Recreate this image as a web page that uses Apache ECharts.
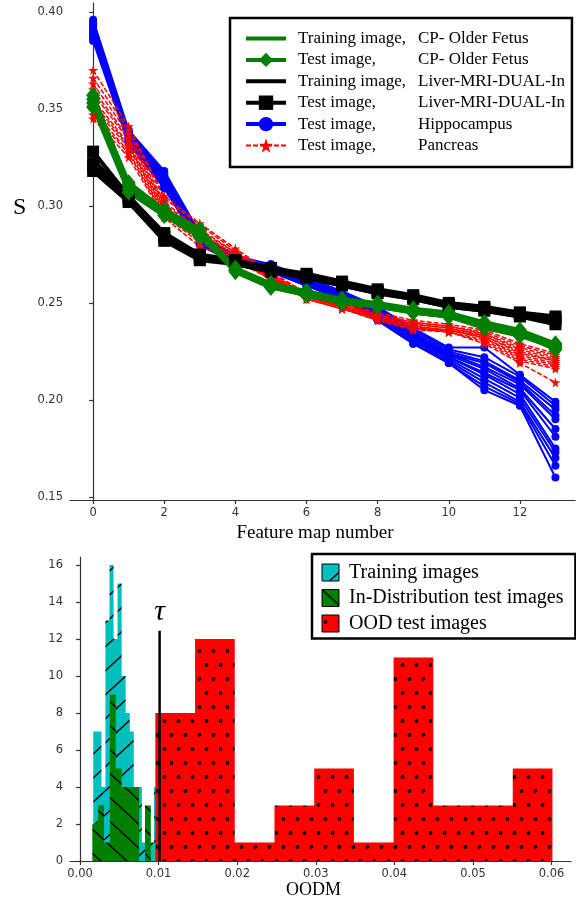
<!DOCTYPE html>
<html><head><meta charset="utf-8">
<script src="https://cdn.jsdelivr.net/npm/echarts@6/dist/echarts.min.js"></script>
<style>html,body{margin:0;padding:0;background:#fff}#c{width:576px;height:906px}</style>
</head><body><div id="c"></div>
<script>
// ---------------- data: top chart ----------------
const featureMaps = [0,1,2,3,4,5,6,7,8,9,10,11,12,13];
const yTicksTop = [0.15,0.20,0.25,0.30,0.35,0.40];
const xTicksTop = [0,2,4,6,8,10,12];

const cpTrain = [
  [0.356,0.310,0.297,0.286,0.267,0.259,0.255,0.251,0.249,0.246,0.244,0.239,0.235,0.228],
  [0.352,0.308,0.295,0.285,0.266,0.258,0.254,0.250,0.248,0.245,0.243,0.238,0.234,0.227]
];
const cpTest = [
  [0.357,0.311,0.297,0.287,0.267,0.259,0.255,0.251,0.249,0.246,0.244,0.239,0.235,0.228],
  [0.353,0.309,0.296,0.286,0.266,0.258,0.254,0.250,0.248,0.245,0.243,0.238,0.234,0.226],
  [0.351,0.307,0.295,0.284,0.267,0.259,0.254,0.251,0.249,0.245,0.243,0.237,0.233,0.227],
  [0.355,0.312,0.298,0.288,0.268,0.260,0.256,0.252,0.250,0.247,0.245,0.240,0.236,0.229]
];
const liverTrain = [
  [0.324,0.304,0.285,0.274,0.271,0.267,0.264,0.260,0.256,0.253,0.249,0.247,0.244,0.241],
  [0.320,0.302,0.283,0.273,0.270,0.266,0.263,0.259,0.255,0.252,0.248,0.246,0.243,0.240]
];
const liverTest = [
  [0.328,0.305,0.286,0.275,0.272,0.268,0.265,0.261,0.257,0.254,0.250,0.248,0.245,0.242],
  [0.322,0.303,0.284,0.273,0.271,0.267,0.264,0.260,0.256,0.253,0.249,0.247,0.244,0.241],
  [0.318,0.302,0.282,0.272,0.270,0.266,0.263,0.259,0.255,0.252,0.248,0.246,0.243,0.239],
  [0.320,0.304,0.285,0.274,0.272,0.267,0.264,0.260,0.256,0.253,0.249,0.247,0.245,0.243]
];
const hippoTest = [
  [0.396,0.339,0.318,0.286,0.274,0.270,0.263,0.256,0.248,0.237,0.227,0.227,0.213,0.199],
  [0.395,0.338,0.317,0.285,0.273,0.269,0.262,0.255,0.247,0.236,0.226,0.222,0.212,0.197],
  [0.394,0.337,0.316,0.285,0.273,0.269,0.262,0.255,0.246,0.235,0.225,0.220,0.210,0.195],
  [0.393,0.337,0.316,0.284,0.272,0.268,0.261,0.254,0.246,0.234,0.224,0.219,0.209,0.192],
  [0.392,0.336,0.315,0.284,0.272,0.268,0.261,0.254,0.245,0.233,0.224,0.217,0.208,0.190],
  [0.391,0.335,0.314,0.283,0.272,0.268,0.261,0.254,0.245,0.233,0.223,0.216,0.206,0.185],
  [0.390,0.335,0.313,0.283,0.271,0.267,0.260,0.253,0.244,0.232,0.222,0.214,0.205,0.181],
  [0.389,0.334,0.313,0.282,0.271,0.267,0.260,0.253,0.244,0.232,0.222,0.213,0.203,0.175],
  [0.388,0.334,0.312,0.282,0.271,0.267,0.260,0.253,0.243,0.231,0.221,0.211,0.201,0.173],
  [0.387,0.333,0.311,0.281,0.270,0.266,0.259,0.252,0.242,0.230,0.220,0.209,0.199,0.170],
  [0.386,0.333,0.310,0.281,0.270,0.266,0.259,0.252,0.241,0.229,0.219,0.207,0.198,0.166],
  [0.385,0.332,0.309,0.280,0.270,0.266,0.259,0.252,0.241,0.229,0.219,0.205,0.197,0.160]
];
const pancreasTest = [
  [0.370,0.341,0.305,0.291,0.278,0.266,0.255,0.250,0.245,0.241,0.239,0.236,0.229,0.224],
  [0.366,0.339,0.304,0.290,0.277,0.265,0.255,0.250,0.244,0.240,0.238,0.235,0.228,0.223],
  [0.363,0.337,0.302,0.288,0.276,0.265,0.254,0.249,0.244,0.240,0.238,0.234,0.227,0.222],
  [0.360,0.335,0.301,0.287,0.276,0.264,0.254,0.249,0.243,0.239,0.237,0.234,0.226,0.221],
  [0.358,0.334,0.300,0.286,0.275,0.264,0.253,0.249,0.243,0.239,0.237,0.233,0.225,0.220],
  [0.355,0.332,0.299,0.285,0.275,0.264,0.253,0.248,0.243,0.238,0.236,0.233,0.224,0.220],
  [0.353,0.331,0.298,0.284,0.274,0.263,0.253,0.248,0.242,0.238,0.236,0.232,0.223,0.219],
  [0.351,0.330,0.297,0.283,0.274,0.263,0.253,0.248,0.242,0.237,0.236,0.232,0.222,0.218],
  [0.349,0.328,0.296,0.282,0.273,0.263,0.252,0.247,0.242,0.237,0.235,0.231,0.221,0.217],
  [0.347,0.327,0.295,0.281,0.273,0.262,0.252,0.247,0.241,0.237,0.235,0.230,0.220,0.216],
  [0.345,0.325,0.294,0.279,0.272,0.262,0.252,0.247,0.241,0.236,0.235,0.229,0.219,0.209]
];

// ---------------- data: bottom chart ----------------
const xTicksBottom = [0,0.01,0.02,0.03,0.04,0.05,0.06];
const yTicksBottom = [0,2,4,6,8,10,12,14,16];
const trainBinEdges = [0.00169,0.00221,0.00273,0.00324,0.00376,0.00427,0.00478,0.00530,0.00581,0.00633,0.00684,0.00735,0.00787,0.00838,0.00890,0.00941,0.00992];
const trainCounts   = [7,7,4,13,16,12,15,10,8,7,4,4,1,1,1,4];
const idBinEdges    = [0.00157,0.00231,0.00306,0.00380,0.00455,0.00529,0.00603,0.00678,0.00752,0.00827,0.00901];
const idCounts      = [2,3,1,9,5,4,4,4,0,3];
const oodBinEdges   = [0.00959,0.01464,0.01969,0.02475,0.02980,0.03485,0.03990,0.04495,0.05001,0.05506,0.06011];
const oodCounts     = [8,12,1,3,5,1,11,3,3,5];
const tauValue = 0.01013;
const tauLineTop = 12.45;

const nameCPTrain = 'Training image, CP- Older Fetus';
const nameCPTest = 'Test image, CP- Older Fetus';
const nameLvTrain = 'Training image, Liver-MRI-DUAL-In';
const nameLvTest = 'Test image, Liver-MRI-DUAL-In';
const nameHip = 'Test image, Hippocampus';
const namePan = 'Test image, Pancreas';
const nameHTrain = 'Training images';
const nameHID = 'In-Distribution test images';
const nameHOOD = 'OOD test images';

// ---------------- patterns ----------------
function hatch(bg, dir) {
  const w = 26, h = 24;
  const c = document.createElement('canvas'); c.width = w; c.height = h;
  const g = c.getContext('2d');
  g.fillStyle = bg; g.fillRect(0,0,w,h);
  g.strokeStyle = '#000'; g.lineWidth = 1.4;
  for (const o of [-w, 0, w]) {
    g.beginPath();
    if (dir === '/') { g.moveTo(o, h); g.lineTo(o + w, 0); }
    else { g.moveTo(o, 0); g.lineTo(o + w, h); }
    g.stroke();
  }
  return {image: c, repeat: 'repeat'};
}
function dots(bg) {
  const w = 14, h = 28;
  const c = document.createElement('canvas'); c.width = w; c.height = h;
  const g = c.getContext('2d');
  g.fillStyle = bg; g.fillRect(0,0,w,h);
  g.fillStyle = '#000';
  for (const [x,y] of [[3.5,7],[10.5,21]]) { g.beginPath(); g.arc(x,y,1.9,0,Math.PI*2); g.fill(); }
  return {image: c, repeat: 'repeat'};
}
const patTrain = hatch('#00bfbf', '/');
const patID = hatch('#008000', '\\');
const patOOD = dots('#ff0000');

const starPath = 'path://M50,0 L61,35 L98,35 L68,57 L79,91 L50,70 L21,91 L32,57 L2,35 L39,35 Z';
const SERIF = 'Liberation Serif';
const SANS = 'DejaVu Sans';

// ---------------- series ----------------
const series = [];
function addLines(group, name, style) {
  group.forEach(vals => {
    series.push(Object.assign({
      type: 'line', name: name, xAxisIndex: 0, yAxisIndex: 0,
      data: featureMaps.map((f, i) => [f, vals[i]]),
      silent: true, emphasis: {disabled: true}
    }, JSON.parse(JSON.stringify(style))));
  });
}
addLines(hippoTest, nameHip, {symbol: 'circle', symbolSize: 8, lineStyle: {width: 2, color: '#0000ff'}, itemStyle: {color: '#0000ff'}});
addLines(pancreasTest, namePan, {symbol: starPath, symbolSize: 10, lineStyle: {width: 1.5, color: '#ff0000', type: [5, 2]}, itemStyle: {color: '#ff0000'}});
addLines(liverTrain, nameLvTrain, {symbol: 'none', lineStyle: {width: 4, color: '#000'}, itemStyle: {color: '#000'}});
addLines(liverTest, nameLvTest, {symbol: 'rect', symbolSize: 12, lineStyle: {width: 4, color: '#000'}, itemStyle: {color: '#000'}});
addLines(cpTrain, nameCPTrain, {symbol: 'none', lineStyle: {width: 4, color: '#008000'}, itemStyle: {color: '#008000'}});
addLines(cpTest, nameCPTest, {symbol: 'diamond', symbolSize: [14, 17], lineStyle: {width: 4, color: '#008000'}, itemStyle: {color: '#008000'}});

// step-filled histogram: one polygon per histogram, vertices mapped through the axes
function histSeries(name, edges, counts, pat) {
  return {
    type: 'custom', name: name, xAxisIndex: 1, yAxisIndex: 1, silent: true, clip: false,
    itemStyle: {color: pat},
    data: [[edges[0], 0]],
    renderItem: function (params, api) {
      const pts = [api.coord([edges[0], 0])];
      counts.forEach((c, i) => {
        pts.push(api.coord([edges[i], c]));
        pts.push(api.coord([edges[i + 1], c]));
      });
      pts.push(api.coord([edges[edges.length - 1], 0]));
      return {type: 'polygon', shape: {points: pts}, style: {fill: pat}};
    }
  };
}
series.push(histSeries(nameHTrain, trainBinEdges, trainCounts, patTrain));
series.push(histSeries(nameHID, idBinEdges, idCounts, patID));
series.push(histSeries(nameHOOD, oodBinEdges, oodCounts, patOOD));
series.push({
  type: 'line', name: 'tau', xAxisIndex: 1, yAxisIndex: 1, silent: true, z: 5,
  symbol: 'none', lineStyle: {color: '#000', width: 2.5},
  data: [[tauValue, 0], [tauValue, tauLineTop]],
  markPoint: {
    symbol: 'circle', symbolSize: 2, silent: true, itemStyle: {color: 'rgba(0,0,0,0)'},
    label: {show: true, position: 'top', distance: 3, formatter: 'τ', fontSize: 30, fontStyle: 'italic', fontFamily: SERIF, color: '#000'},
    data: [{coord: [tauValue, tauLineTop]}]
  }
});

const axisLineStyle = {show: true, lineStyle: {color: '#333', width: 1.2}};
function tick(vals) { return {show: true, length: 4, customValues: vals, lineStyle: {color: '#333', width: 1.2}}; }
function lab(vals, fmt) {
  return {customValues: vals, formatter: fmt, fontFamily: SANS, fontSize: 11.5, color: '#333', margin: 7};
}

const option = {
  animation: false,
  backgroundColor: '#fff',
  grid: [
    {left: 70, top: 3, width: 505, height: 497},
    {left: 70, top: 557, width: 501, height: 304}
  ],
  xAxis: [
    {type: 'value', gridIndex: 0, min: -0.65, max: 13.55,
      name: 'Feature map number', nameLocation: 'middle', nameGap: 22,
      nameTextStyle: {fontFamily: SERIF, fontSize: 19, color: '#000', padding: [0, 15, 0, 0]},
      axisLine: axisLineStyle, axisTick: tick(xTicksTop), splitLine: {show: false},
      axisLabel: lab(xTicksTop, v => String(v))},
    {type: 'value', gridIndex: 1, min: -0.00127, max: 0.06247,
      name: 'OODM', nameLocation: 'middle', nameGap: 20,
      nameTextStyle: {fontFamily: SERIF, fontSize: 18, color: '#000', padding: [0, 14, 0, 0]},
      axisLine: axisLineStyle, axisTick: tick(xTicksBottom), splitLine: {show: false},
      axisLabel: lab(xTicksBottom, v => v.toFixed(2))}
  ],
  yAxis: [
    {type: 'value', gridIndex: 0, min: 0.1484, max: 0.4046,
      axisLine: axisLineStyle, axisTick: tick(yTicksTop), splitLine: {show: false},
      axisLabel: lab(yTicksTop, v => v.toFixed(2))},
    {type: 'value', gridIndex: 1, min: 0, max: 16.43,
      axisLine: axisLineStyle, axisTick: tick(yTicksBottom), splitLine: {show: false},
      axisLabel: lab(yTicksBottom, v => String(v))}
  ],
  legend: [
    {
      left: 230, top: 18, orient: 'vertical', itemWidth: 40, itemHeight: 18, itemGap: 4.4,
      padding: [12, 7, 13, 14], borderColor: '#000', borderWidth: 2.5, backgroundColor: '#fff',
      selectedMode: false,
      textStyle: {fontFamily: SERIF, fontSize: 17, color: '#000', padding: [0, 0, 0, 7],
        rich: {a: {width: 120, fontFamily: SERIF, fontSize: 17, lineHeight: 16, color: '#000'},
               b: {fontFamily: SERIF, fontSize: 17, lineHeight: 16, color: '#000'}}},
      formatter: function (n) { const i = n.indexOf(','); return '{a|' + n.slice(0, i + 1) + '}{b|' + n.slice(i + 1).trim() + '}'; },
      data: [
        {name: nameCPTrain, itemStyle: {opacity: 0}, lineStyle: {width: 4}},
        {name: nameCPTest, lineStyle: {width: 4}},
        {name: nameLvTrain, itemStyle: {opacity: 0}, lineStyle: {width: 4}},
        {name: nameLvTest, lineStyle: {width: 4}},
        {name: nameHip, lineStyle: {width: 4}},
        {name: namePan, lineStyle: {width: 2}}
      ]
    },
    {
      left: 312, top: 554, orient: 'vertical', itemWidth: 17, itemHeight: 17, itemGap: 5.5,
      padding: [8.5, 12, 5, 9.5], borderColor: '#000', borderWidth: 2.5, backgroundColor: '#fff',
      selectedMode: false, icon: 'rect',
      textStyle: {fontFamily: SERIF, fontSize: 20, lineHeight: 17, color: '#000', padding: [0, 0, 0, 5]},
      data: [
        {name: nameHTrain, icon: 'rect', itemStyle: {color: patTrain, borderColor: '#000', borderWidth: 1}},
        {name: nameHID, icon: 'rect', itemStyle: {color: patID, borderColor: '#000', borderWidth: 1}},
        {name: nameHOOD, icon: 'rect', itemStyle: {color: patOOD, borderColor: '#000', borderWidth: 1}}
      ]
    }
  ],
  graphic: [
    {type: 'text', left: 13, top: 196, style: {text: 'S', fontFamily: SERIF, fontSize: 24, fill: '#000'}}
  ],
  series: series
};

const chart = echarts.init(document.getElementById('c'), null, {renderer: 'canvas'});
chart.setOption(option);
</script>
</body></html>
